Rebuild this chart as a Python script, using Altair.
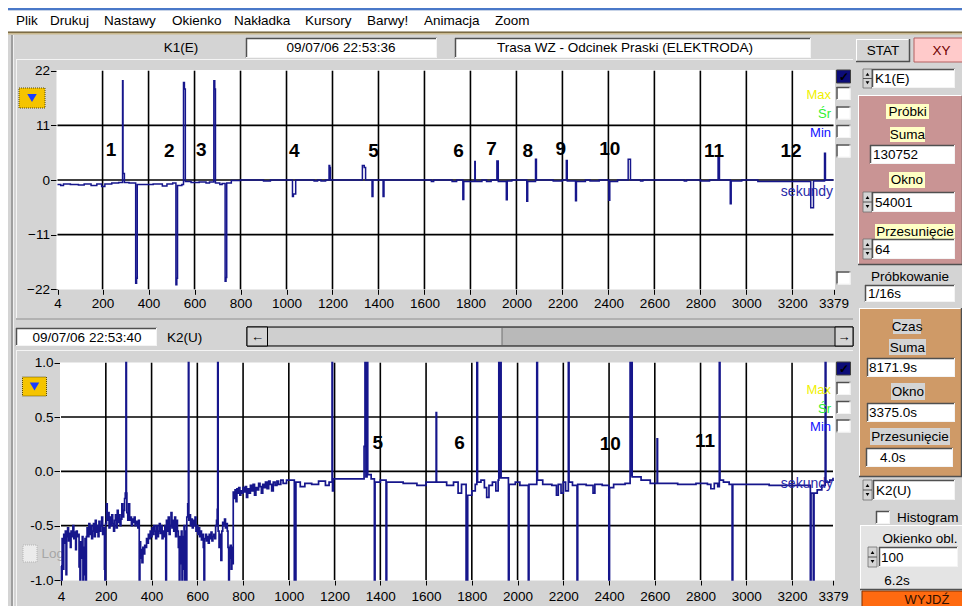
import altair as alt
import pandas as pd

FONT = "Liberation Sans"
BG = "#d4d4d4"
NAVY = "#16168c"
OX, OY = 8, 8          # page margin
W, H = 954, 598        # whole canvas

# ---------------- data ----------------
menu_items = ["Plik", "Drukuj", "Nastawy", "Okienko", "Nakładka", "Kursory", "Barwy!", "Animacja", "Zoom"]
menu_pos = [16, 50, 104, 172, 234, 305, 367, 424, 495]

x_ticks = [4, 200, 400, 600, 800, 1000, 1200, 1400, 1600, 1800, 2000, 2200, 2400, 2600, 2800, 3000, 3200, 3379]
x_grid = [200, 400, 600, 800, 1000, 1200, 1400, 1600, 1800, 2000, 2200, 2400, 2600, 2800, 3000, 3200]
top_yticks = [-22, -11, 0, 11, 22]
top_ygrid = [-11, 0, 11]
bot_yticks = [-1.0, -0.5, 0.0, 0.5, 1.0]
bot_ygrid = [-0.5, 0.0, 0.5]

# K1(E) trace (seconds, value)
top_x = [4, 18, 30, 60, 95, 120, 150, 175, 196, 210, 240, 270, 287, 289, 295, 315,
         344, 348, 351, 420, 460, 480, 505, 519, 523, 526, 545, 552, 556, 560, 585, 620,
         650, 665, 684, 688, 691, 710, 720, 733, 737, 740, 760, 800, 900, 930, 1026, 1030,
         1040, 1120, 1135, 1150, 1170, 1185, 1188, 1191, 1330, 1338, 1344, 1372, 1376, 1420,
         1424, 1630, 1640, 1720, 1740, 1767, 1771, 1819, 1821, 1850, 1870, 1890, 1915, 1921,
         1956, 1960, 1980, 2045, 2049, 2083, 2087, 2160, 2200, 2217, 2221, 2257, 2261, 2300,
         2320, 2360, 2402, 2406, 2440, 2486, 2496, 2540, 2550, 2730, 2740, 2800, 2840, 2877,
         2883, 2930, 2934, 2980, 3050, 3280, 3292, 3340, 3344, 3379]
top_y = [-0.9, -1.1, -0.8, -0.9, -1.0, -0.8, -1.1, -0.8, -1.3, -0.8, -0.6, -0.5, 20.0, 1.3, -0.5, -0.6,
         -20.8, -19.8, -0.9, -0.8, -1.2, -0.8, -0.6, -21.1, -19.8, -1.1, -0.9, 19.6, 18.3, -0.3, -0.5, -0.4,
         -0.6, -0.4, 20.0, 18.3, -0.6, -0.9, -0.7, -20.4, -19.6, -0.6, -0.1, 0.0, -0.2, 0.0, -3.3, -2.8,
         0.0, -0.2, 0.0, -0.2, 0.0, 2.9, 2.5, 0.0, 2.9, 2.5, 0.0, -3.3, 0.0, -3.3,
         0.0, -0.3, 0.0, -0.3, 0.0, -3.9, -0.3, 3.7, -0.3, 0.0, -0.3, 0.0, 3.8, -0.3,
         -4.0, -0.2, 0.0, -4.3, -0.3, 4.2, 0.0, -0.2, 0.0, 3.9, -0.2, -4.2, -0.3, 0.0,
         -0.2, 0.0, -4.1, -0.3, 0.0, 4.2, 0.0, -0.2, 0.0, -0.2, 0.0, -0.2, 0.0, 4.7,
         0.0, -4.8, -0.2, 0.0, -0.3, -5.6, -0.2, 5.4, 0.0, 0.0]

# K2(U) trace (seconds, value)
bot_x = [4, 6, 9, 13, 16, 20, 23, 26, 29, 33, 37, 41, 45, 48, 52, 56, 60, 64, 68, 71,
         75, 79, 83, 87, 90, 94, 97, 100, 103, 106, 109, 112, 115, 118, 122, 126, 130, 134, 138, 142,
         146, 150, 154, 158, 162, 166, 170, 174, 178, 182, 186, 190, 194, 196, 199, 203, 206, 210, 214, 218,
         222, 226, 230, 234, 238, 242, 246, 250, 254, 258, 262, 266, 270, 274, 278, 282, 285, 288, 290, 292,
         296, 300, 304, 308, 312, 316, 320, 324, 328, 332, 336, 340, 343, 346, 349, 352, 355, 358, 362, 366,
         370, 374, 378, 382, 386, 390, 394, 398, 402, 406, 410, 414, 418, 422, 426, 430, 434, 438, 442, 446,
         450, 454, 458, 462, 465, 469, 473, 477, 481, 485, 489, 493, 497, 501, 505, 509, 513, 517, 521, 524,
         527, 530, 533, 536, 539, 542, 545, 548, 551, 554, 558, 561, 563, 566, 570, 574, 578, 582, 586, 590,
         594, 598, 602, 606, 610, 614, 618, 622, 626, 629, 632, 636, 640, 644, 648, 652, 656, 660, 664, 668,
         672, 676, 680, 684, 687, 689, 691, 695, 699, 703, 707, 711, 715, 719, 723, 727, 731, 734, 737, 740,
         744, 748, 751, 754, 757, 761, 765, 769, 773, 777, 781, 786, 790, 795, 800, 805, 810, 815, 820, 826,
         832, 838, 844, 850, 856, 862, 868, 874, 880, 886, 892, 898, 905, 912, 918, 925, 932, 940, 948, 955,
         965, 975, 990, 1024, 1031, 1050, 1070, 1100, 1130, 1160, 1176, 1189,
         1191, 1195, 1329, 1333, 1337, 1342, 1345, 1360, 1374, 1377, 1400, 1425, 1428, 1500, 1560,
         1600, 1644, 1646, 1690, 1720, 1740, 1755, 1775, 1777, 1780, 1782, 1800, 1815, 1822, 1825,
         1840, 1855, 1865, 1875, 1890, 1905, 1915, 1918, 1920, 1926, 1928, 1960, 1963, 1990, 2010,
         2047, 2050, 2084, 2087, 2110, 2150, 2170, 2178, 2190, 2200, 2210, 2222, 2225, 2240, 2260,
         2263, 2300, 2330, 2338, 2370, 2399, 2402, 2420, 2470, 2492, 2494, 2499, 2501, 2540, 2580,
         2610, 2612, 2700, 2780, 2830, 2845, 2860, 2875, 2882, 2885, 2900, 2925, 2938, 2941, 3000,
         3100, 3200, 3280, 3283, 3293, 3296, 3310, 3330, 3345, 3348, 3365, 3379]
bot_y = [-0.87, -1.0, -0.62, -0.9, -0.58, -0.66, -0.55, -0.95, -0.6, -0.52, -0.64, -0.57, -0.7, -0.55, -0.6, -0.5, -0.62, -0.56, -0.72, -0.55,
         -0.6, -0.58, -0.88, -1.0, -0.65, -0.8, -0.6, -1.0, -0.7, -0.95, -0.62, -1.0, -0.6, -0.52, -0.6, -0.48, -0.58, -0.5, -0.62, -0.55,
         -0.48, -0.6, -0.45, -0.56, -0.5, -0.6, -0.46, -0.55, -0.5, -0.42, -0.58, -0.52, -0.9, -1.0, -0.48, -0.3, -0.45, -0.38, -0.52, -0.42,
         -0.5, -0.4, -0.48, -0.55, -0.45, -0.4, -0.52, -0.36, -0.47, -0.4, -0.5, -0.44, -0.3, -0.42, -0.36, -0.25, -0.2, 1.0, -0.2, -0.38,
         -0.45, -0.3, -0.45, -0.42, -0.5, -0.44, -0.47, -0.42, -0.5, -0.46, -0.48, -0.52, -0.45, -1.0, -0.65, -0.8, -0.72, -0.84, -0.7, -0.76,
         -0.68, -0.7, -0.62, -0.66, -0.58, -0.62, -0.55, -0.6, -0.52, -0.58, -0.5, -0.55, -0.62, -0.5, -0.6, -0.55, -0.48, -0.57, -0.5, -0.62,
         -0.55, -0.6, -0.5, -1.0, -0.45, -0.55, -0.42, -0.58, -0.5, -0.38, -0.52, -0.45, -0.55, -0.42, -0.6, -0.45, -0.55, -0.7, -1.0, -0.6,
         -0.85, -0.55, -1.0, -0.6, -0.9, -0.5, -1.0, -0.55, -1.0, -0.42, -0.3, 1.0, -0.45, -0.4, -0.5, -0.44, -0.52, -0.45, -0.5, -0.42,
         -0.55, -0.5, -0.58, -0.52, -0.6, -0.55, -0.63, -0.58, -0.7, -1.0, -0.62, -0.58, -0.64, -0.6, -0.66, -0.58, -0.62, -0.56, -0.64, -0.6,
         -0.58, -0.62, -0.5, -0.45, -0.35, 1.0, -0.55, -0.7, -0.58, -0.82, -0.55, -0.47, -0.5, -0.44, -0.52, -0.48, -0.55, -0.7, -1.0, -0.8,
         -0.68, -0.9, -0.7, -0.85, -0.19, -0.25, -0.17, -0.28, -0.16, -0.2, -0.15, -0.22, -0.18, -0.2, -0.15, -0.19, -0.14, -0.24, -0.16, -0.2,
         -0.13, -0.18, -0.12, -0.22, -0.15, -0.17, -0.11, -0.14, -0.2, -0.12, -0.15, -0.1, -0.16, -0.09, -0.12, -0.18, -0.1, -0.13, -0.09, -0.12,
         -0.08, -0.11, -0.08, -1.0, -0.1, -0.14, -0.11, -0.12, -0.09, -0.13, -0.1, 1.0,
         -0.18, -0.07, 0.23, 1.0, -0.05, 1.0, -0.03, -0.07, -1.0, -0.1, -0.08, -1.0, -0.1, -0.11, -0.13,
         -0.1, 0.54, -0.1, -0.13, -0.1, -0.2, -0.12, -1.0, -0.25, -1.0, -0.22, -0.18, -0.12, 1.0, -0.1,
         -0.08, -0.15, -0.24, -0.13, -0.1, -0.18, -0.08, 1.0, -0.06, 1.0, -0.06, -1.0, -0.12, -0.1, -0.13,
         -1.0, -0.12, 1.0, -0.08, -0.12, -0.13, -0.22, -0.12, -0.2, -0.1, -0.18, 1.0, -0.1, -0.13, -1.0,
         -0.12, -0.13, -0.2, -0.12, -0.13, -1.0, -0.15, -0.12, -0.11, 1.0, -0.04, 1.0, -0.05, -0.08, -0.11,
         0.3, -0.11, -0.12, -0.11, -0.12, -0.16, -0.11, -0.14, 1.0, -0.08, -0.1, -0.12, -1.0, -0.12, -0.12,
         -0.13, -0.13, -1.0, -0.2, -1.0, -0.2, -0.17, -0.13, 1.0, -0.1, -0.08, -0.06]

top_lbl_t = ["1", "2", "3", "4", "5", "6", "7", "8", "9", "10", "11", "12"]
top_lbl_x = [237, 490, 629, 1034, 1378, 1748, 1892, 2049, 2193, 2406, 2859, 3194]
top_lbl_y = [6.1, 5.8, 6.1, 5.9, 5.9, 5.8, 6.3, 5.9, 6.3, 6.3, 5.9, 5.8]
bot_lbl_t = ["5", "6", "10", "11"]
bot_lbl_x = [1389, 1746, 2405, 2820]
bot_lbl_y = [0.26, 0.26, 0.255, 0.28]


# ---------------- chrome helpers ----------------
def R(x1, y1, x2, y2, fill, stroke=None, sw=1.0, dash=None):
    props = {"fill": fill, "strokeWidth": sw if stroke else 0}
    if stroke:
        props["stroke"] = stroke
    if dash:
        props["strokeDash"] = dash
    return alt.Chart().mark_rect(**props).encode(
        x=alt.value(x1 - OX), x2=alt.value(x2 - OX), y=alt.value(y1 - OY), y2=alt.value(y2 - OY))


def Ln(x1, y1, x2, y2, color, sw=1.0):
    return alt.Chart().mark_rule(color=color, strokeWidth=sw).encode(
        x=alt.value(x1 - OX), x2=alt.value(x2 - OX), y=alt.value(y1 - OY), y2=alt.value(y2 - OY))


def T(x, y, s, size=13.5, color="black", align="left", weight="normal"):
    return alt.Chart().mark_text(text=s, fontSize=size, color=color, align=align, baseline="middle",
                                 fontWeight=weight, font=FONT).encode(x=alt.value(x - OX), y=alt.value(y - OY))


def P(x, y, shape, size, color):
    return alt.Chart().mark_point(shape=shape, filled=True, size=size, color=color, opacity=1,
                                  strokeWidth=0).encode(x=alt.value(x - OX), y=alt.value(y - OY))


def field(x1, y1, x2, y2):
    return [R(x1, y1, x2, y2, "white"),
            Ln(x1, y1 + 0.5, x2, y1 + 0.5, "#505050", 1.5), Ln(x1 + 0.5, y1, x1 + 0.5, y2, "#505050", 1.5),
            Ln(x1, y2 - 0.5, x2, y2 - 0.5, "#f4f4f4"), Ln(x2 - 0.5, y1, x2 - 0.5, y2, "#f4f4f4")]


def raised(x1, y1, x2, y2, fill):
    return [R(x1, y1, x2, y2, fill),
            Ln(x1, y1 + 0.5, x2, y1 + 0.5, "#ffffff"), Ln(x1 + 0.5, y1, x1 + 0.5, y2, "#ffffff"),
            Ln(x1, y2 - 0.5, x2, y2 - 0.5, "#505050", 1.5), Ln(x2 - 0.5, y1, x2 - 0.5, y2, "#505050", 1.5)]


def spinner(x, y1, y2):
    m = (y1 + y2) / 2
    return [R(x, y1, x + 9, y2, BG, "#707070", 0.8),
            Ln(x, m, x + 9, m, "#505050"),
            P(x + 4.5, (y1 + m) / 2 + 0.5, "triangle-up", 14, "black"),
            P(x + 4.5, (m + y2) / 2 - 0.5, "triangle-down", 14, "black")]


def checkbox(x1, y1, x2, y2, checked=False):
    if checked:
        return [R(x1, y1, x2, y2, "#0c0c78", "#404040", 1),
                T((x1 + x2) / 2, (y1 + y2) / 2 + 0.5, "✓", 12, "black", "center", "bold")]
    return field(x1, y1, x2, y2)


def ybutton(x1, y1, x2, y2):
    return [R(x1, y1, x2, y2, "#f5c400", "#5a4a00", 1, [1, 1]),
            P((x1 + x2) / 2, (y1 + y2) / 2, "triangle-down", 90, "#1a3cff")]


bg = []
# window top
bg += [R(8, 8, 962, 10.5, "#4a78c8"), R(8, 10.5, 962, 31.5, "white"),
       R(8, 31.5, 962, 33, "#7d6c45"), R(8, 33, 962, 34.5, "#c9b98f")]
bg += [T(x, 21, s) for s, x in zip(menu_items, menu_pos)]
# header
bg += [Ln(12, 35, 12, 606, "#8c8c8c", 1.5), Ln(13.5, 35, 13.5, 606, "#f0f0f0")]
bg += [T(181, 47.5, "K1(E)", align="center")]
bg += field(246, 38, 437, 58) + [T(341, 48, "09/07/06  22:53:36", align="center")]
bg += field(455, 38, 811, 58) + [T(625, 48, "Trasa WZ - Odcinek Praski (ELEKTRODA)", align="center")]
# top panel
bg += [Ln(16, 59.5, 853, 59.5, "#f4f4f4"), Ln(16.5, 59, 16.5, 318, "#f4f4f4"),
       Ln(16, 319, 853, 319, "#909090")]
bg += [R(56.5, 70, 835, 289.5, "white")]
bg += ybutton(19, 88, 45, 108)
bg += checkbox(836.5, 70, 850.5, 83, True)
for (a, b) in [(87, 100), (106.5, 119.5), (125, 138), (144.5, 157.5), (271.5, 284.5)]:
    bg += checkbox(836.5, a, 850.5, b)
# middle bar
bg += field(16, 328, 157, 346) + [T(87, 337.5, "09/07/06 22:53:40", align="center"), T(167, 337.5, "K2(U)")]
bg += [R(247, 327, 853, 346, "#b9b9b9", "black", 1), R(267.5, 328, 502, 345, "#cfcfcf"),
       Ln(502, 328, 502, 345, "#707070"),
       R(247, 327, 267.5, 346, BG, "black", 1), T(257.5, 336.5, "←", 13, "black", "center", "bold"),
       R(835, 327, 853, 346, BG, "black", 1), T(844, 336.5, "→", 13, "black", "center", "bold")]
# bottom panel
bg += [Ln(16, 350.5, 853, 350.5, "#f4f4f4"), Ln(16.5, 350, 16.5, 606, "#f4f4f4")]
bg += [R(60, 362.5, 835, 580.5, "white")]
bg += ybutton(22.5, 377, 46.5, 396)
bg += checkbox(836.5, 362, 850.5, 375, True)
for (a, b) in [(382, 395), (401, 414), (419.5, 432.5)]:
    bg += checkbox(836.5, a, 850.5, b)
bg += [R(23, 545, 37, 562, "#ececec", "#b4b4b4", 1, [1, 1]), T(41.5, 554, "Log", 13.5, "#a6a6a6")]

# side panel
side = []
side += raised(856, 39, 910, 62, BG) + [T(883, 51, "STAT", align="center")]
side += [R(914, 38, 969, 62, "#ffcaca", "#b46060", 1), T(941.5, 51, "XY", color="#700000", align="center")]
side += spinner(863, 69, 88) + field(872, 69, 955, 88) + [T(875, 79, "K1(E)")]
side += raised(858, 95, 963, 265, "#c99494")
side += [R(886, 104, 929, 119, "#ffffc4"), T(907.5, 111.5, "Próbki", align="center")]
side += [R(890, 127, 925, 142, "#ffffc4"), T(907.5, 134.5, "Suma", align="center")]
side += field(870, 145, 955, 164) + [T(873, 155, "130752")]
side += [R(889, 172, 925, 188, "#ffffc4"), T(907, 180, "Okno", align="center")]
side += spinner(863, 192, 212) + field(872, 192, 955, 212) + [T(875, 202.5, "54001")]
side += [R(875, 224, 955, 239, "#ffffc4"), T(915, 231.5, "Przesunięcie", align="center")]
side += spinner(863, 239, 259) + field(872, 239, 955, 259) + [T(875, 249.5, "64")]
side += [T(910, 277, "Próbkowanie", align="center")]
side += field(865, 285, 955, 302) + [T(868, 294, "1/16s")]
side += raised(859, 308, 962, 477, "#cf9a67")
side += [R(893, 319, 921, 334, BG), T(907, 327, "Czas", align="center")]
side += [R(889, 339, 926, 355, BG), T(907.5, 347.5, "Suma", align="center")]
side += field(867, 358, 955, 377) + [T(869, 368, "8171.9s")]
side += [R(891, 383, 925, 400, BG), T(908, 391.5, "Okno", align="center")]
side += field(867, 403, 955, 422) + [T(869, 413, "3375.0s")]
side += [R(870, 428, 950, 445, BG), T(910, 437, "Przesunięcie", align="center")]
side += field(866, 448, 953, 467) + [T(880, 458, "4.0s")]
side += spinner(863, 480, 500) + field(873, 480, 955, 500) + [T(876, 490.5, "K2(U)")]
side += field(876, 511, 890, 524) + [T(897, 518, "Histogram")]
side += raised(860, 525, 969, 590, "#e4e4e4") + [T(920, 538.5, "Okienko obl.", align="center")]
side += spinner(868, 547, 567) + field(879, 547, 958, 567) + [T(881, 557.5, "100")]
side += [T(897, 580.5, "6.2s", align="center")]
side += [R(862, 591, 970, 608, "#ff6a10", "#803000", 1), T(927, 599.5, "WYJDŹ", 13, "#301000", "center")]

# ---------------- plots ----------------
def xaxis(y_pix, pad):
    return alt.Axis(orient="bottom", offset=(y_pix - OY) - H, values=x_ticks, format="d", grid=False,
                    domain=False, ticks=True, tickColor="black", tickSize=5, tickWidth=1,
                    labelFont=FONT, labelFontSize=13.5, labelColor="black", labelPadding=pad,
                    labelFlush=False, labelOverlap=False, title=None)


def yaxis(x_pix, values, expr):
    return alt.Axis(orient="left", offset=-(x_pix - OX), values=values, labelExpr=expr, grid=False,
                    domain=False, ticks=True, tickColor="black", tickSize=7, tickWidth=1,
                    labelFont=FONT, labelFontSize=13.5, labelColor="black", labelPadding=1,
                    labelOverlap=False, title=None)


def panel(xl, xr, yb, yt, ydom, ytick_vals, ygrid, yexpr, xs, ys, lbl_t, lbl_x, lbl_y, lw, pad):
    sx = alt.Scale(domain=[4, 3379], range=[xl - OX, xr - OX], nice=False, zero=False)
    sy = alt.Scale(domain=ydom, range=[yb - OY, yt - OY], nice=False, zero=False)
    ax = xaxis(yb, pad)
    ay = yaxis(xl, ytick_vals, yexpr)
    gv = pd.DataFrame({"gx": x_grid, "g0": [ydom[0]] * len(x_grid), "g1": [ydom[1]] * len(x_grid)})
    gh = pd.DataFrame({"gy": ygrid, "h0": [4] * len(ygrid), "h1": [3379] * len(ygrid)})
    tr = pd.DataFrame({"t": xs, "v": ys, "i": list(range(len(xs)))})
    lb = pd.DataFrame({"t": lbl_x, "v": lbl_y, "s": lbl_t})
    l1 = alt.Chart(gv).mark_rule(color="black", strokeWidth=1.6).encode(
        x=alt.X("gx:Q", scale=sx, axis=ax), y=alt.Y("g0:Q", scale=sy, axis=ay), y2="g1:Q")
    l2 = alt.Chart(gh).mark_rule(color="black", strokeWidth=1.6).encode(
        x=alt.X("h0:Q", scale=sx, axis=ax), x2="h1:Q", y=alt.Y("gy:Q", scale=sy, axis=ay))
    l3 = alt.Chart(tr).mark_line(interpolate="step-after", color=NAVY, strokeWidth=lw).encode(
        x=alt.X("t:Q", scale=sx, axis=ax), y=alt.Y("v:Q", scale=sy, axis=ay), order="i:Q")
    l4 = alt.Chart(lb).mark_text(font=FONT, fontSize=19, fontWeight="bold", color="black").encode(
        x=alt.X("t:Q", scale=sx, axis=ax), y=alt.Y("v:Q", scale=sy, axis=ay), text="s:N")
    return alt.layer(l1, l2, l3, l4)


top = panel(57.5, 833.5, 289.3, 70.7, [-22, 22], top_yticks, top_ygrid, "format(datum.value, 'd')",
            top_x, top_y, top_lbl_t, top_lbl_x, top_lbl_y, 1.5, 2)
bot = panel(61, 833, 580, 362.7, [-1, 1], bot_yticks, bot_ygrid,
            "(datum.value < 0 ? '-' : '') + format(abs(datum.value), '.1f')",
            bot_x, bot_y, bot_lbl_t, bot_lbl_x, bot_lbl_y, 1.7, 4)

fg = [T(831, 95, "Max", 13, "#f0f000", "right"), T(831, 113.5, "Śr", 13, "#30f030", "right"),
      T(831, 132.5, "Min", 13, "#1010ff", "right"),
      T(831, 390, "Max", 13, "#f0f000", "right"), T(831, 408.5, "Śr", 13, "#30f030", "right"),
      T(831, 427, "Min", 13, "#1010ff", "right"),
      T(833, 191.5, "sekundy", 14, "#2828a8", "right"), T(833, 483.5, "sekundy", 14, "#2828a8", "right")]

chart = alt.layer(*bg, *side, top, bot, *fg).resolve_scale(
    x="independent", y="independent"
).properties(
    width=W, height=H, autosize=alt.AutoSizeParams(type="none"), padding=0, background=BG
).configure_view(strokeWidth=0)

chart.save("out.html", embed_options={"renderer": "svg", "actions": False})
